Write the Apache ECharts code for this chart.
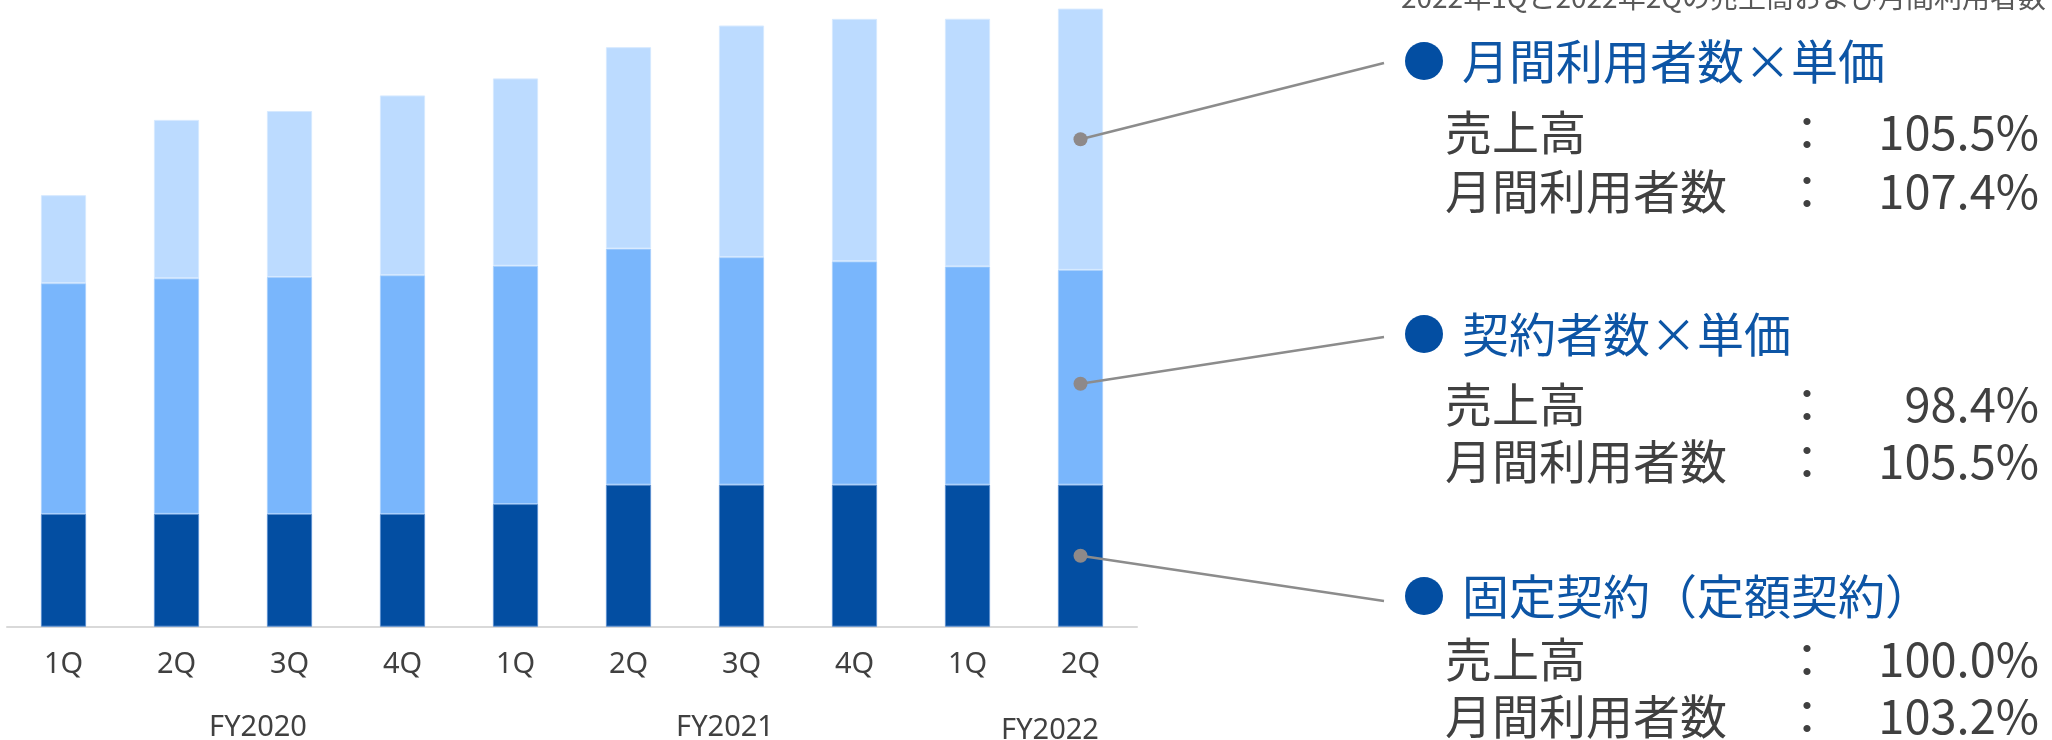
<!DOCTYPE html>
<html>
<head>
<meta charset="utf-8">
<script src="https://cdn.jsdelivr.net/npm/echarts@6/dist/echarts.min.js"></script>
<style>
  html, body { margin: 0; padding: 0; background: #ffffff; }
  #chart { width: 2052px; height: 740px; }
</style>
</head>
<body>
<div id="chart"></div>
<script>
// Quarterly revenue by contract type (index units, stacked)
const categories = ['1Q', '2Q', '3Q', '4Q', '1Q', '2Q', '3Q', '4Q', '1Q', '2Q'];
const fiscalYears = ['FY2020', 'FY2021', 'FY2022'];

const fixedPlan    = [100, 100.1, 100, 100, 108.8, 126, 126, 126, 126, 126];
const contractPlan = [204.7, 208.9, 210.2, 211.8, 211.4, 209.4, 201.8, 198.1, 193.6, 190.5];
const monthlyPlan  = [78.1, 140.6, 147.3, 159.5, 166.2, 178.7, 205.5, 215.1, 219.7, 231.8];

// Legend blocks, top to bottom: name, sales ratio, monthly-user ratio
const planNames  = ['月間利用者数×単価', '契約者数×単価', '固定契約（定額契約）'];
const salesRatio = ['105.5%', '98.4%', '100.0%'];
const userRatio  = ['107.4%', '105.5%', '103.2%'];
const rowLabels  = ['売上高', '月間利用者数'];
const headline   = '2022年1Qと2022年2Qの売上高および月間利用者数';

const COLORS = { fixed: '#034ea2', contract: '#79b6fc', monthly: '#bcdbff' };
const JP = '"Noto Sans CJK JP", "Noto Sans", sans-serif';
const TEXT = '#404040';

const chart = echarts.init(document.getElementById('chart'), null, { renderer: 'canvas' });

function barSeries(name, data, color, border) {
  return {
    name, type: 'bar', stack: 'total', data,
    barWidth: '40%',
    itemStyle: { color, borderColor: border, borderWidth: 1 },
    emphasis: { disabled: true },
    silent: true
  };
}

chart.setOption({
  animation: false,
  backgroundColor: '#ffffff',
  grid: { left: 7, right: 915, top: 6.7, bottom: 113.3 },
  xAxis: {
    type: 'category',
    data: categories,
    boundaryGap: true,
    axisLine: { show: true, lineStyle: { color: '#d9d9d9', width: 2 } },
    axisTick: { show: false },
    axisLabel: { color: TEXT, fontSize: 29, fontFamily: '"Noto Sans", sans-serif', margin: 24 }
  },
  yAxis: {
    type: 'value', min: 0, max: 550,
    show: false, splitLine: { show: false }
  },
  series: [
    barSeries('固定契約', fixedPlan, COLORS.fixed, '#5b8fcf'),
    barSeries('契約者数×単価', contractPlan, COLORS.contract, '#a9d0fd'),
    barSeries('月間利用者数×単価', monthlyPlan, COLORS.monthly, '#d6e9ff')
  ]
});

// Connector dots sit inside each segment of the last bar
const last = categories.length - 1;
const anchorShare = [0.5, 0.47, 0.5];
function segmentAnchor(idx) {
  const f = fixedPlan[last], c = contractPlan[last], m = monthlyPlan[last];
  if (idx === 0) return f + c + m * anchorShare[0];
  if (idx === 1) return f + c * anchorShare[1];
  return f * anchorShare[2];
}

const blockY = [
  { head: 61, row1: 132, row2: 191, lineEnd: [1384, 63] },
  { head: 334, row1: 404, row2: 461, lineEnd: [1384, 337] },
  { head: 596, row1: 659, row2: 716, lineEnd: [1384, 601] }
];

const graphics = [];

// headline, partly cut off by the top edge
graphics.push({
  type: 'text', x: 1401, y: -3, silent: true,
  style: { text: headline, fill: '#595959', font: '28px ' + JP, textAlign: 'left', textVerticalAlign: 'middle' }
});

// fiscal year labels under the quarter labels
const fyPos = [[258, 728], [725, 728], [1050, 731]];
fiscalYears.forEach((fy, i) => {
  graphics.push({
    type: 'text', x: fyPos[i][0], y: fyPos[i][1], silent: true,
    style: { text: fy, fill: TEXT, font: '29px "Noto Sans", sans-serif', textAlign: 'center', textVerticalAlign: 'middle' }
  });
});

blockY.forEach((b, i) => {
  const p = chart.convertToPixel({ seriesIndex: 0 }, [last, segmentAnchor(i)]);
  graphics.push({
    type: 'line', silent: true, z: 10,
    shape: { x1: p[0], y1: p[1], x2: b.lineEnd[0], y2: b.lineEnd[1] },
    style: { stroke: '#8c8c8c', lineWidth: 2.5 }
  });
  graphics.push({
    type: 'circle', silent: true, z: 11,
    shape: { cx: p[0], cy: p[1], r: 7 },
    style: { fill: '#8e8989' }
  });
  // bullet + block title
  graphics.push({
    type: 'circle', silent: true, z: 11,
    shape: { cx: 1424, cy: b.head, r: 19 },
    style: { fill: COLORS.fixed }
  });
  graphics.push({
    type: 'text', x: 1462, y: b.head, silent: true,
    style: { text: planNames[i], fill: '#0d55a5', font: '47px ' + JP, textAlign: 'left', textVerticalAlign: 'middle' }
  });
  // ratio rows
  [[b.row1, rowLabels[0], salesRatio[i]], [b.row2, rowLabels[1], userRatio[i]]].forEach(([y, label, val]) => {
    graphics.push({
      type: 'text', x: 1445, y, silent: true,
      style: { text: label, fill: TEXT, font: '47px ' + JP, textAlign: 'left', textVerticalAlign: 'middle' }
    });
    graphics.push({
      type: 'text', x: 1807, y, silent: true,
      style: { text: '：', fill: TEXT, font: '47px ' + JP, textAlign: 'center', textVerticalAlign: 'middle' }
    });
    graphics.push({
      type: 'text', x: 2039, y, silent: true,
      style: { text: val, fill: TEXT, font: '47px ' + JP, textAlign: 'right', textVerticalAlign: 'middle' }
    });
  });
});

chart.setOption({ graphic: { elements: graphics } });
</script>
</body>
</html>
